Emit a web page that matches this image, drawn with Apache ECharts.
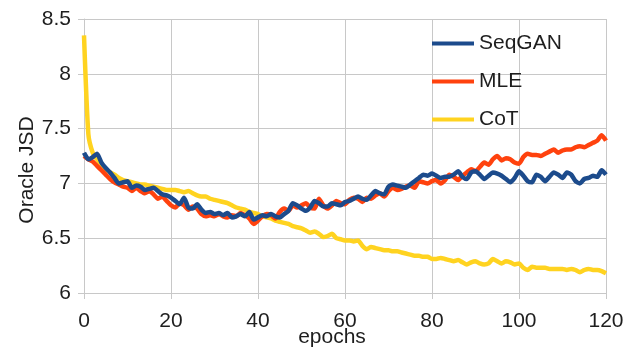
<!DOCTYPE html>
<html>
<head>
<meta charset="utf-8">
<script src="https://cdn.jsdelivr.net/npm/echarts@6/dist/echarts.min.js"></script>
<style>
  html, body { margin: 0; padding: 0; background: #fff; }
  #chart { width: 628px; height: 349px; }
</style>
</head>
<body>
<div id="chart"></div>
<script>
const epochs = Array.from({ length: 121 }, (_, i) => i);

const seqgan = [
  7.28, 7.22, 7.24, 7.27, 7.19, 7.14, 7.10, 7.05, 7.00, 7.01,
  7.02, 6.96, 6.98, 6.97, 6.94, 6.95, 6.96, 6.93, 6.90, 6.89,
  6.87, 6.84, 6.81, 6.87, 6.78, 6.77, 6.81, 6.76, 6.73, 6.74,
  6.72, 6.73, 6.71, 6.73, 6.69, 6.70, 6.72, 6.70, 6.74, 6.67,
  6.69, 6.71, 6.70, 6.72, 6.70, 6.69, 6.72, 6.75, 6.82, 6.80,
  6.77, 6.75, 6.78, 6.84, 6.82, 6.79, 6.79, 6.82, 6.81, 6.80,
  6.83, 6.84, 6.86, 6.88, 6.86, 6.85, 6.89, 6.93, 6.91, 6.90,
  6.97, 6.99, 6.98, 6.97, 6.96, 6.99, 7.02, 7.05, 7.08, 7.07,
  7.09, 7.07, 7.05, 7.06, 7.06, 7.08, 7.11, 7.06, 7.04, 7.10,
  7.11, 7.08, 7.04, 7.07, 7.10, 7.09, 7.07, 7.04, 7.01, 7.05,
  7.11, 7.07, 7.02, 7.01, 7.08, 7.06, 7.02, 7.06, 7.10, 7.08,
  7.05, 7.10, 7.08, 7.02, 7.00, 7.04, 7.05, 7.07, 7.06, 7.12,
  7.08
];

const mle = [
  7.25, 7.22, 7.20, 7.16, 7.12, 7.08, 7.04, 7.01, 6.99, 6.97,
  6.96, 6.93, 6.96, 6.93, 6.91, 6.93, 6.90, 6.86, 6.88, 6.84,
  6.80, 6.78, 6.82, 6.80, 6.76, 6.79, 6.77, 6.72, 6.70, 6.71,
  6.70, 6.72, 6.70, 6.69, 6.71, 6.70, 6.73, 6.71, 6.68, 6.63,
  6.66, 6.70, 6.72, 6.71, 6.68, 6.74, 6.77, 6.75, 6.80, 6.78,
  6.80, 6.82, 6.78, 6.77, 6.86, 6.80, 6.77, 6.80, 6.84, 6.82,
  6.81, 6.85, 6.87, 6.86, 6.83, 6.87, 6.86, 6.89, 6.91, 6.88,
  6.93, 6.96, 6.94, 6.95, 6.97, 6.98, 6.96, 7.02, 7.01, 7.00,
  7.02, 7.03, 7.00, 7.03, 7.08, 7.06, 7.03, 7.07, 7.10, 7.13,
  7.11, 7.15, 7.19, 7.17, 7.22, 7.25, 7.21, 7.23, 7.22, 7.19,
  7.18, 7.24, 7.27, 7.26, 7.26, 7.25, 7.27, 7.29, 7.31, 7.28,
  7.30, 7.31, 7.31, 7.33, 7.34, 7.33, 7.35, 7.37, 7.39, 7.44,
  7.39
];

const cot = [
  8.35, 7.45, 7.28, 7.22, 7.17, 7.13, 7.10, 7.08, 7.05, 7.03,
  7.02, 7.01, 7.00, 6.99, 6.99, 6.98, 6.97, 6.96, 6.95, 6.94,
  6.94, 6.94, 6.93, 6.92, 6.93, 6.91, 6.89, 6.88, 6.88, 6.86,
  6.85, 6.84, 6.83, 6.82, 6.80, 6.78, 6.77, 6.76, 6.74, 6.73,
  6.72, 6.70, 6.69, 6.68, 6.66, 6.65, 6.64, 6.63, 6.61, 6.60,
  6.59, 6.57, 6.55, 6.56, 6.54, 6.51, 6.52, 6.54, 6.50, 6.49,
  6.48, 6.48, 6.47, 6.48, 6.43, 6.40, 6.42, 6.41, 6.40, 6.39,
  6.39, 6.38, 6.38, 6.37, 6.36, 6.35, 6.34, 6.34, 6.33, 6.33,
  6.31, 6.31, 6.32, 6.31, 6.30, 6.29, 6.30, 6.28, 6.26, 6.28,
  6.29, 6.27, 6.26, 6.27, 6.31, 6.29, 6.27, 6.29, 6.28, 6.26,
  6.27, 6.23, 6.21, 6.24, 6.23, 6.23, 6.23, 6.22, 6.22, 6.22,
  6.22, 6.21, 6.22, 6.21, 6.19, 6.21, 6.22, 6.21, 6.21, 6.20,
  6.18
];

const seriesNames = ["SeqGAN", "MLE", "CoT"];
const colors = { SeqGAN: "#1c4b8c", MLE: "#ff420e", CoT: "#ffd320" };

const font = '"Liberation Sans", Arial, sans-serif';
const gridColor = "#c8c8c8";
const textColor = "#1e1e1e";

function pairs(values) {
  return epochs.map((x, i) => [x, values[i]]);
}

function lineSeries(name, values) {
  return {
    type: "line",
    name: name,
    data: pairs(values),
    showSymbol: false,
    symbol: "none",
    smooth: 0.2,
    color: colors[name],
    lineStyle: { width: 4.5, color: colors[name] },
  };
}

const chart = echarts.init(document.getElementById("chart"), null, {
  renderer: "canvas",
});

chart.setOption({
  animation: false,
  backgroundColor: "#fff",
  textStyle: { fontFamily: font },
  grid: {
    left: 84,
    right: 22,
    top: 19,
    bottom: 56,
    containLabel: false,
    outerBoundsMode: "none",
  },
  legend: {
    data: seriesNames,
    orient: "vertical",
    left: 432,
    top: 33,
    padding: 0,
    icon: "rect",
    itemWidth: 42,
    itemHeight: 4,
    itemGap: 17,
    textStyle: { fontFamily: font, fontSize: 21, color: textColor },
  },
  xAxis: {
    type: "value",
    min: 0,
    max: 120,
    interval: 20,
    name: "epochs",
    nameLocation: "middle",
    nameMoveOverlap: false,
    nameGap: 34,
    nameTextStyle: {
      fontFamily: font,
      fontSize: 21,
      color: textColor,
      padding: [0, 26, 0, 0],
    },
    axisLine: { lineStyle: { color: gridColor, width: 1 } },
    axisTick: { show: true, length: 6, lineStyle: { color: gridColor } },
    axisLabel: { fontFamily: font, fontSize: 21, color: textColor, margin: 18 },
    splitLine: { show: true, lineStyle: { color: gridColor, width: 1 } },
  },
  yAxis: {
    type: "value",
    min: 6,
    max: 8.5,
    interval: 0.5,
    name: "Oracle JSD",
    nameLocation: "middle",
    nameMoveOverlap: false,
    nameRotate: 90,
    nameGap: 46,
    nameTextStyle: {
      fontFamily: font,
      fontSize: 21,
      color: textColor,
      padding: [0, 28, 0, 0],
    },
    axisLine: { show: true, lineStyle: { color: gridColor, width: 1 } },
    axisTick: { show: true, length: 6, lineStyle: { color: gridColor } },
    axisLabel: { fontFamily: font, fontSize: 21, color: textColor, margin: 13 },
    splitLine: { show: true, lineStyle: { color: gridColor, width: 1 } },
  },
  series: [
    lineSeries("CoT", cot),
    lineSeries("MLE", mle),
    lineSeries("SeqGAN", seqgan),
  ],
});
</script>
</body>
</html>
